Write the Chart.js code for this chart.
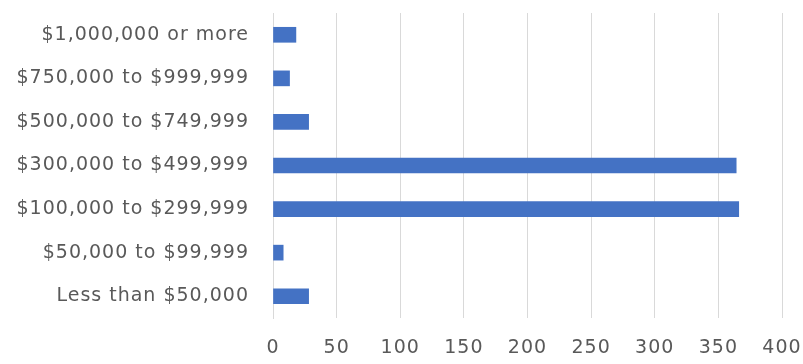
<!DOCTYPE html>
<html>
<head>
<meta charset="utf-8">
<script src="https://cdn.jsdelivr.net/npm/chart.js@4.4.1/dist/chart.umd.min.js"></script>
<style>
  html, body { margin: 0; padding: 0; background: #fff; }
  #wrap { width: 803px; height: 364px; }
</style>
</head>
<body>
<div id="wrap"><canvas id="chart" width="803" height="364"></canvas></div>
<script>
// price ranges, top to bottom
var categories = [
    "$1,000,000 or more",
    "$750,000 to $999,999",
    "$500,000 to $749,999",
    "$300,000 to $499,999",
    "$100,000 to $299,999",
    "$50,000 to $99,999",
    "Less than $50,000"
];
var counts = [18, 13, 28, 364, 366, 8, 28];
var xTicks = [0, 50, 100, 150, 200, 250, 300, 350, 400];

var labelFont = { family: 'DejaVu Sans', size: 19 };

// wider text spacing, set before layout measures and before drawing
var spacing = {
    id: 'spacing',
    beforeUpdate: function (c) { c.ctx.letterSpacing = '1px'; },
    beforeDraw: function (c) { c.ctx.letterSpacing = '1px'; }
};

var ctx = document.getElementById('chart').getContext('2d');

var chart = new Chart(ctx, {
    type: 'bar',
    data: {
        labels: categories,
        datasets: [{
            data: counts,
            backgroundColor: '#4472c4',
            borderWidth: 0,
            barThickness: 15
        }]
    },
    plugins: [spacing],
    options: {
        indexAxis: 'y',
        responsive: false,
        devicePixelRatio: 1,
        animation: false,
        layout: { padding: { top: 13, right: 21, bottom: 0, left: 0 } },
        plugins: {
            legend: { display: false },
            tooltip: { enabled: false }
        },
        scales: {
            x: {
                min: 0,
                max: 400,
                afterBuildTicks: function (axis) {
                    axis.ticks = xTicks.map(function (v) { return { value: v }; });
                },
                afterFit: function (axis) {
                    axis.height = 46;
                    axis.paddingLeft = 0;
                    axis.paddingRight = 0;
                },
                grid: { color: '#d9d9d9', lineWidth: 1, drawTicks: false },
                border: { display: false },
                ticks: {
                    color: '#595959',
                    padding: 19,
                    maxRotation: 0,
                    font: labelFont
                }
            },
            y: {
                afterFit: function (axis) {
                    axis.width = 273;
                    axis.paddingTop = 0;
                    axis.paddingBottom = 0;
                },
                grid: { display: false, drawTicks: false },
                border: { display: true, color: '#d9d9d9' },
                ticks: {
                    color: '#595959',
                    padding: 24,
                    font: labelFont
                }
            }
        }
    }
});
</script>
</body>
</html>
